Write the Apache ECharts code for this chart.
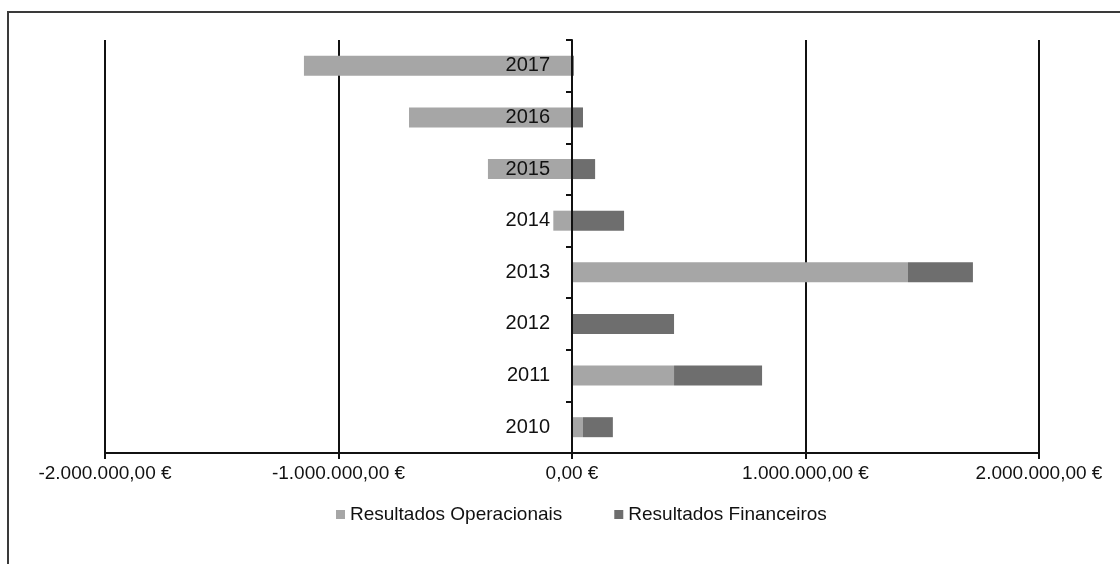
<!DOCTYPE html>
<html>
<head>
<meta charset="utf-8">
<script src="https://cdn.jsdelivr.net/npm/echarts@6/dist/echarts.min.js"></script>
<style>
  html, body { margin: 0; padding: 0; background: #ffffff; }
  #chart { width: 1120px; height: 564px; }
</style>
</head>
<body>
<div id="chart"></div>
<script>
// Years, bottom to top on the category axis
const years = ['2010', '2011', '2012', '2013', '2014', '2015', '2016', '2017'];
// Operating results per year (EUR)
const operacionais = [47000, 437000, 0, 1439000, -80000, -360000, -698000, -1148000];
// Financial results per year (EUR)
const financeiros = [128000, 377000, 437000, 278000, 223000, 99000, 47000, 8000];
// Value axis range and step (EUR)
const axisMin = -2000000;
const axisMax = 2000000;
const axisStep = 1000000;

const FONT = '"Liberation Sans Narrow", "Arial Narrow", "Liberation Sans", Arial, sans-serif';

// Portuguese currency format: 1.000.000,00 €
function euro(v) {
  const neg = v < 0;
  const abs = Math.abs(v);
  const int = Math.floor(abs).toString().replace(/\B(?=(\d{3})+(?!\d))/g, '.');
  const dec = Math.round((abs - Math.floor(abs)) * 100).toString().padStart(2, '0');
  return (neg ? '-' : '') + int + ',' + dec + ' €';
}

const GRID_LEFT = 105;
const GRID_RIGHT = 81;

const chart = echarts.init(document.getElementById('chart'), null, { renderer: 'canvas' });

// Year labels sit just left of the zero line, so their offset is measured from the grid edge
const plotWidth = 1120 - GRID_LEFT - GRID_RIGHT;
const zeroOffset = plotWidth * (0 - axisMin) / (axisMax - axisMin);

chart.setOption({
  animation: false,
  backgroundColor: '#ffffff',
  textStyle: { fontFamily: FONT },
  graphic: [{
    type: 'rect',
    shape: { x: 8, y: 12, width: 1130, height: 580 },
    style: { fill: 'none', stroke: '#3a3a3a', lineWidth: 2 },
    silent: true
  }],
  grid: { left: GRID_LEFT, right: GRID_RIGHT, top: 40, bottom: 111, containLabel: false },
  legend: {
    top: 500,
    left: 331,
    itemWidth: 9,
    itemHeight: 9,
    itemGap: 52,
    icon: 'rect',
    textStyle: { fontFamily: FONT, fontSize: 19, color: '#111' },
    data: ['Resultados Operacionais', 'Resultados Financeiros']
  },
  xAxis: {
    type: 'value',
    min: axisMin,
    max: axisMax,
    interval: axisStep,
    axisLine: { show: true, lineStyle: { color: '#111', width: 2 } },
    axisTick: { show: true, length: 6, lineStyle: { color: '#111', width: 2 } },
    splitLine: { show: true, lineStyle: { color: '#111', width: 2 } },
    axisLabel: {
      margin: 11,
      fontFamily: FONT,
      fontSize: 19,
      color: '#111',
      formatter: euro
    }
  },
  yAxis: {
    type: 'category',
    data: years,
    z: 10,
    axisLine: { show: true, onZero: true, lineStyle: { color: '#111', width: 2 } },
    axisTick: { show: true, length: 6, lineStyle: { color: '#111', width: 2 } },
    splitLine: { show: false },
    axisLabel: {
      margin: 22 - zeroOffset,
      fontFamily: FONT,
      fontSize: 20,
      color: '#111'
    }
  },
  series: [
    {
      name: 'Resultados Operacionais',
      type: 'bar',
      stack: 'total',
      barWidth: 20,
      data: operacionais,
      itemStyle: { color: '#a6a6a6' }
    },
    {
      name: 'Resultados Financeiros',
      type: 'bar',
      stack: 'total',
      barWidth: 20,
      data: financeiros,
      itemStyle: { color: '#6e6e6e' }
    }
  ]
});
</script>
</body>
</html>
